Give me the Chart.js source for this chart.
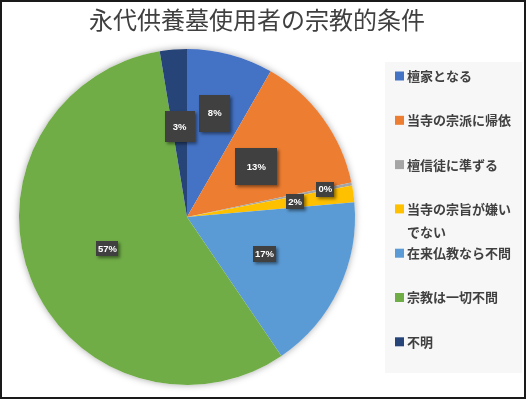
<!DOCTYPE html>
<html lang="ja">
<head>
<meta charset="utf-8">
<title>永代供養墓使用者の宗教的条件</title>
<script src="https://cdn.jsdelivr.net/npm/chart.js@4.4.1/dist/chart.umd.min.js"></script>
<style>
  html, body { margin: 0; padding: 0; background: #fff; }
  #chart { display: block; }
</style>
</head>
<body>
<canvas id="chart" width="526" height="399"></canvas>
<script>
// data (percent)
const chartTitle = '永代供養墓使用者の宗教的条件';
const categories = [
  '檀家となる',
  '当寺の宗派に帰依',
  '檀信徒に準ずる',
  ['当寺の宗旨が嫌い', 'でない'],
  '在来仏教なら不問',
  '宗教は一切不問',
  '不明',
];
const shares = [8.3, 13.4, 0.3, 1.6, 16.9, 56.9, 2.6];
const sliceColors = ['#4472C4', '#ED7D31', '#A5A5A5', '#FFC000', '#5B9BD5', '#70AD47', '#264478'];

const textColor = '#404040';

// where each data label sits (fraction of radius) and how big its box is
const labelRadius = [0.64, 0.51, 0.84, 0.65, 0.51, 0.51, 0.54];
const labelBox = [[31, 37], [42, 37], [18, 15], [18, 15], [23, 16], [22, 15], [30, 31]];

// soft shadow under the whole pie
const pieShadow = {
  id: 'pieShadow',
  beforeDatasetsDraw(chart) {
    const arc = chart.getDatasetMeta(0).data[0];
    if (!arc) return;
    const ctx = chart.ctx;
    ctx.save();
    ctx.shadowColor = 'rgba(0, 0, 0, 0.35)';
    ctx.shadowBlur = 7;
    ctx.fillStyle = '#fff';
    ctx.beginPath();
    ctx.arc(arc.x, arc.y, arc.outerRadius, 0, Math.PI * 2);
    ctx.fill();
    ctx.restore();
  },
};

// dark boxed percent labels
const boxLabels = {
  id: 'boxLabels',
  afterDatasetsDraw(chart) {
    const ctx = chart.ctx;
    const meta = chart.getDatasetMeta(0);
    ctx.save();
    ctx.font = 'bold 9.5px "Liberation Sans", Arial, sans-serif';
    ctx.textAlign = 'center';
    ctx.textBaseline = 'middle';
    meta.data.forEach((arc, i) => {
      const mid = (arc.startAngle + arc.endAngle) / 2;
      const r = arc.outerRadius * labelRadius[i];
      const x = arc.x + Math.cos(mid) * r;
      const y = arc.y + Math.sin(mid) * r;
      const [w, h] = labelBox[i];
      ctx.shadowColor = 'rgba(0, 0, 0, 0.45)';
      ctx.shadowBlur = 3;
      ctx.shadowOffsetX = 2;
      ctx.shadowOffsetY = 2;
      ctx.fillStyle = '#404040';
      ctx.fillRect(Math.round(x - w / 2), Math.round(y - h / 2), w, h);
      ctx.shadowColor = 'transparent';
      ctx.fillStyle = '#fff';
      ctx.fillText(Math.round(shares[i]) + '%', x, y + 0.5);
    });
    ctx.restore();
  },
};

// title, legend panel and outer frame
const frame = {
  id: 'frame',
  afterDraw(chart) {
    const ctx = chart.ctx;
    ctx.save();

    ctx.fillStyle = textColor;
    ctx.font = '24px "Noto Sans CJK JP", sans-serif';
    ctx.textAlign = 'center';
    ctx.textBaseline = 'middle';
    ctx.fillText(chartTitle, 257, 20);

    ctx.fillStyle = '#f7f7f7';
    ctx.fillRect(385, 62, 137, 311);

    ctx.font = 'bold 13px "Noto Sans CJK JP", sans-serif';
    ctx.textAlign = 'left';
    categories.forEach((label, i) => {
      const y = 76 + i * 44.3;
      ctx.fillStyle = sliceColors[i];
      ctx.fillRect(395, y - 4.5, 9, 9);
      ctx.fillStyle = textColor;
      const lines = Array.isArray(label) ? label : [label];
      lines.forEach((line, j) => ctx.fillText(line, 407, y + j * 23));
    });

    ctx.strokeStyle = '#1a1a1a';
    ctx.lineWidth = 2;
    ctx.strokeRect(1, 1, 524, 397);
    ctx.restore();
  },
};

new Chart(document.getElementById('chart'), {
  type: 'pie',
  data: {
    labels: categories,
    datasets: [
      {
        data: shares,
        backgroundColor: sliceColors,
        borderWidth: 0,
        hoverOffset: 0,
      },
    ],
  },
  options: {
    responsive: false,
    animation: false,
    events: [],
    layout: {
      padding: { top: 49, right: 171, bottom: 14, left: 19 },
    },
    plugins: {
      legend: { display: false },
      tooltip: { enabled: false },
      title: { display: false },
    },
  },
  plugins: [pieShadow, boxLabels, frame],
});
</script>
</body>
</html>
